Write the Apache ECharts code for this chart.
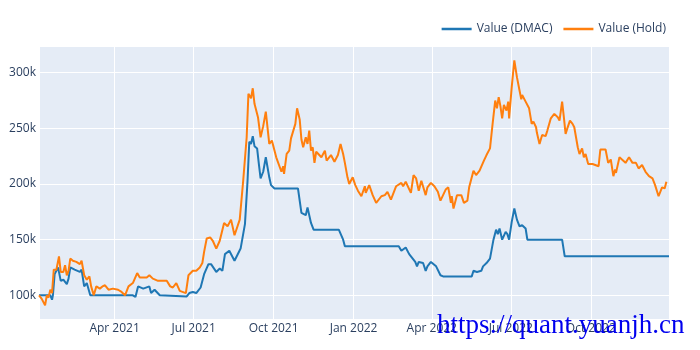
<!DOCTYPE html>
<html>
<head>
<meta charset="utf-8">
<script src="https://cdn.jsdelivr.net/npm/echarts@6/dist/echarts.min.js"></script>
<style>
html,body{margin:0;padding:0;background:#fff;}
#chart{width:700px;height:350px;}
</style>
</head>
<body>
<div id="chart"></div>
<script>
// Values in thousands
const holdDates = ['2021-01-04','2021-01-07','2021-01-11','2021-01-13','2021-01-15','2021-01-17','2021-01-19','2021-01-21','2021-01-24','2021-01-27','2021-01-29','2021-02-01','2021-02-03','2021-02-05','2021-02-07','2021-02-09','2021-02-12','2021-02-16','2021-02-20','2021-02-22','2021-02-25','2021-02-27','2021-02-28','2021-03-03','2021-03-05','2021-03-08','2021-03-11','2021-03-15','2021-03-18','2021-03-21','2021-03-25','2021-03-30','2021-04-05','2021-04-09','2021-04-13','2021-04-17','2021-04-22','2021-04-27','2021-04-30','2021-05-08','2021-05-11','2021-05-15','2021-05-21','2021-05-31','2021-06-04','2021-06-07','2021-06-11','2021-06-15','2021-06-22','2021-06-25','2021-06-30','2021-07-04','2021-07-08','2021-07-11','2021-07-13','2021-07-16','2021-07-20','2021-07-23','2021-07-27','2021-07-31','2021-08-02','2021-08-05','2021-08-09','2021-08-13','2021-08-17','2021-08-23','2021-08-27','2021-08-31','2021-09-02','2021-09-05','2021-09-07','2021-09-09','2021-09-13','2021-09-16','2021-09-19','2021-09-22','2021-09-26','2021-09-29','2021-10-04','2021-10-10','2021-10-12','2021-10-13','2021-10-16','2021-10-19','2021-10-21','2021-10-23','2021-10-26','2021-10-28','2021-10-31','2021-11-02','2021-11-04','2021-11-07','2021-11-09','2021-11-11','2021-11-13','2021-11-15','2021-11-17','2021-11-19','2021-11-25','2021-11-29','2021-12-01','2021-12-06','2021-12-10','2021-12-14','2021-12-16','2021-12-17','2021-12-20','2021-12-22','2021-12-25','2021-12-27','2021-12-31','2022-01-03','2022-01-06','2022-01-10','2022-01-14','2022-01-15','2022-01-19','2022-01-23','2022-01-27','2022-02-02','2022-02-06','2022-02-09','2022-02-13','2022-02-19','2022-02-25','2022-02-27','2022-03-02','2022-03-08','2022-03-11','2022-03-14','2022-03-17','2022-03-20','2022-03-22','2022-03-25','2022-03-27','2022-03-31','2022-04-04','2022-04-08','2022-04-11','2022-04-17','2022-04-20','2022-04-23','2022-04-24','2022-04-26','2022-04-30','2022-05-05','2022-05-08','2022-05-12','2022-05-14','2022-05-19','2022-05-22','2022-05-26','2022-05-31','2022-06-03','2022-06-07','2022-06-10','2022-06-13','2022-06-15','2022-06-17','2022-06-19','2022-06-21','2022-06-23','2022-06-26','2022-06-28','2022-06-29','2022-07-02','2022-07-05','2022-07-08','2022-07-11','2022-07-13','2022-07-14','2022-07-18','2022-07-19','2022-07-22','2022-07-25','2022-07-27','2022-07-30','2022-07-31','2022-08-03','2022-08-06','2022-08-10','2022-08-12','2022-08-16','2022-08-20','2022-08-24','2022-08-26','2022-08-29','2022-08-31','2022-09-02','2022-09-04','2022-09-07','2022-09-10','2022-09-12','2022-09-16','2022-09-18','2022-09-21','2022-09-23','2022-09-25','2022-09-28','2022-10-03','2022-10-10','2022-10-12','2022-10-18','2022-10-21','2022-10-24','2022-10-27','2022-10-29','2022-10-30','2022-11-03','2022-11-04','2022-11-10','2022-11-14','2022-11-18','2022-11-22','2022-11-25','2022-11-29','2022-12-03','2022-12-07','2022-12-11','2022-12-14','2022-12-18','2022-12-22','2022-12-25','2022-12-27','2022-12-30'];
const holdValues = [100,97,91,100,98,105,102,123,123,135,121,121,127,118,122,133,131,130,128,131,118,119,114,117,108,100,108,106,108,109,105,106,105,103,100,108,111,120,116,116,118,115,113,113,108,107,111,104,102,118,122,122,125,129,139,151,152,149,142,149,148,165,162,168,154,168,203,242,281,277,286,272,260,242,252,265,236,239,224,211,216,209,227,230,241,242,254,268,258,240,233,242,236,248,230,233,219,229,224,230,221,226,220,226,225,236,227,219,206,200,206,199,194,189,198,192,199,190,183,189,190,193,186,198,201,198,202,192,208,205,194,203,202,190,197,201,198,193,185,195,197,183,189,178,190,190,183,185,197,212,208,212,221,226,232,254,275,268,278,270,259,271,266,274,259,287,311,296,284,276,280,274,275,268,254,256,251,246,236,244,243,248,259,263,260,257,274,260,245,250,257,254,251,233,227,232,224,227,218,218,216,231,231,219,222,207,213,210,224,223,219,224,219,219,214,217,211,207,205,199,189,197,196,202];

const dmacDates = ['2021-01-04','2021-01-17','2021-01-19','2021-01-20','2021-01-22','2021-01-26','2021-01-29','2021-02-01','2021-02-03','2021-02-05','2021-02-07','2021-02-09','2021-02-14','2021-02-20','2021-02-22','2021-02-25','2021-02-28','2021-03-04','2021-04-22','2021-04-25','2021-04-28','2021-05-04','2021-05-11','2021-05-13','2021-05-17','2021-05-23','2021-05-25','2021-06-23','2021-06-26','2021-06-30','2021-07-04','2021-07-09','2021-07-13','2021-07-18','2021-07-21','2021-07-27','2021-07-31','2021-08-03','2021-08-06','2021-08-11','2021-08-17','2021-08-24','2021-08-29','2021-09-01','2021-09-03','2021-09-05','2021-09-07','2021-09-09','2021-09-12','2021-09-14','2021-09-16','2021-09-19','2021-09-22','2021-09-26','2021-09-28','2021-10-02','2021-10-29','2021-11-02','2021-11-04','2021-11-07','2021-11-09','2021-11-13','2021-11-16','2021-12-15','2021-12-20','2021-12-22','2022-02-22','2022-02-25','2022-03-02','2022-03-06','2022-03-13','2022-03-15','2022-03-17','2022-03-22','2022-03-25','2022-03-27','2022-03-31','2022-04-06','2022-04-11','2022-04-14','2022-05-17','2022-05-19','2022-05-23','2022-05-28','2022-05-30','2022-06-03','2022-06-07','2022-06-11','2022-06-14','2022-06-16','2022-06-18','2022-06-21','2022-06-25','2022-06-27','2022-06-29','2022-07-02','2022-07-05','2022-07-08','2022-07-11','2022-07-14','2022-07-18','2022-07-20','2022-08-29','2022-09-01','2022-12-30'];
const dmacValues = [100,100,96,100,119,125,113,114,115,110,115,125,123,121,123,108,111,100,100,98.5,108,106,108,102,105,100,99,99,102,103,102,107,119,128,128,121,124,122,137,140,131,142,164,203,238,236,243,234,232,218,205,211,224,206,199,196,196,174,175,172,179,165,159,159,150,144,144,140,143,137,130,126,130,129,122,126,130,126,118,117,117,122,121,122,126,129,133,150,159,155,160,150,157,155,150,166,178,168,162,163,160,150,150,135,135];

const seriesNames = ['Value (DMAC)', 'Value (Hold)'];
const monthNames = ['Jan','Feb','Mar','Apr','May','Jun','Jul','Aug','Sep','Oct','Nov','Dec'];
const xStart = '2021-01-04', xEnd = '2022-12-30';

const chart = echarts.init(document.getElementById('chart'), null, {renderer: 'canvas'});
const FONT = '"Open Sans", sans-serif';
const TXT = '#2a3f5f';
const DAY = 86400000;

chart.setOption({
  animation: false,
  backgroundColor: '#fff',
  textStyle: {fontFamily: FONT},
  grid: {left: 39, right: 31, top: 46, bottom: 31, show: true, backgroundColor: '#E5ECF6', borderWidth: 0},
  legend: {
    right: 29, top: 18, itemWidth: 30, itemHeight: 2.5, itemGap: 11, icon: 'rect',
    textStyle: {color: TXT, fontSize: 12, fontFamily: FONT},
    data: seriesNames
  },
  xAxis: {
    type: 'time', min: xStart, max: xEnd,
    splitNumber: 8, minInterval: 91 * DAY, maxInterval: 91 * DAY,
    axisLine: {show: false}, axisTick: {show: false},
    splitLine: {show: true, lineStyle: {color: '#fff', width: 1}},
    axisLabel: {
      color: TXT, fontSize: 12, fontFamily: FONT, margin: 4,
      showMinLabel: false, showMaxLabel: false,
      formatter: function (v) { const d = new Date(v); return monthNames[d.getMonth()] + ' ' + d.getFullYear(); }
    }
  },
  yAxis: {
    type: 'value', min: 78.7, max: 324, splitNumber: 5,
    axisLine: {show: false}, axisTick: {show: false},
    splitLine: {show: true, lineStyle: {color: '#fff', width: 1}},
    axisLabel: {color: TXT, fontSize: 12, fontFamily: FONT, margin: 3,
      showMinLabel: false, showMaxLabel: false,
      formatter: function (v) { return v + 'k'; }}
  },
  series: [
    {name: seriesNames[0], type: 'line', symbol: 'none', color: '#1f77b4',
     lineStyle: {width: 2, color: '#1f77b4'},
     data: dmacDates.map((d, i) => [d, dmacValues[i]])},
    {name: seriesNames[1], type: 'line', symbol: 'none', color: '#ff7f0e',
     lineStyle: {width: 2, color: '#ff7f0e'},
     data: holdDates.map((d, i) => [d, holdValues[i]])}
  ],
  graphic: [{
    type: 'text', left: 437, top: 312, z: 100,
    style: {text: 'https://quant.yuanjh.cn', fill: '#0000ee', font: '27px "Liberation Serif", serif'}
  }]
});
</script>
</body>
</html>
